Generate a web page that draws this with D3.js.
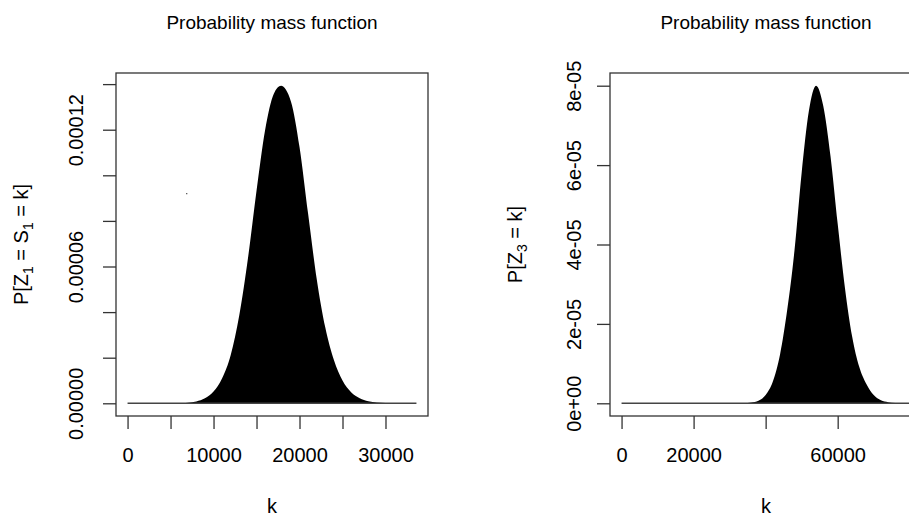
<!DOCTYPE html>
<html>
<head>
<meta charset="utf-8">
<script src="https://cdn.jsdelivr.net/npm/d3@7"></script>
<style>
  body { margin: 0; background: #fff; }
  svg { display: block; font-family: "Liberation Sans", Arial, sans-serif; }
</style>
</head>
<body>
<svg id="chart" width="909" height="517"></svg>
<script>
// pmf values, one array per series
const leftK = [0, 6000, 7000, 8000, 9000, 10000, 11000, 12000, 13000, 14000, 15000, 16000, 17000, 17850,
  19000, 20000, 21000, 22000, 23000, 24000, 25000, 26000, 27000, 28000, 29000, 30000, 31000, 33600];
const leftP = [0, 0, 0.0027e-4, 0.0081e-4, 0.0218e-4, 0.0518e-4, 0.110e-4, 0.212e-4, 0.387e-4, 0.635e-4,
  0.932e-4, 1.199e-4, 1.357e-4, 1.393e-4, 1.324e-4, 1.124e-4, 0.831e-4, 0.545e-4, 0.332e-4,
  0.190e-4, 0.100e-4, 0.049e-4, 0.0225e-4, 0.0094e-4, 0.0036e-4, 0.001e-4, 0, 0];

// the lone speck inside the first panel
const leftStrayK = [6870];
const leftStrayP = [9.2e-5];

const rightK = [0, 32000, 34000, 36000, 38000, 40000, 42000, 44000, 46000, 48000, 50000, 52000, 54000,
  56000, 58000, 60000, 62000, 64000, 66000, 68000, 70000, 72000, 74000, 76000, 78000, 80000, 80200];
const rightP = [0, 0, 0.004e-5, 0.018e-5, 0.065e-5, 0.207e-5, 0.547e-5, 1.232e-5, 2.36e-5, 3.84e-5,
  5.81e-5, 7.36e-5, 8.0e-5, 7.49e-5, 6.23e-5, 4.52e-5, 2.92e-5, 1.689e-5, 0.913e-5, 0.479e-5,
  0.207e-5, 0.074e-5, 0.025e-5, 0.007e-5, 0.002e-5, 0, 0];

const leftXTicks = [0, 5000, 10000, 15000, 20000, 25000, 30000];
const leftXLabels = [0, 10000, 20000, 30000];
const leftYTicks = [0, 2e-5, 4e-5, 6e-5, 8e-5, 1e-4, 1.2e-4, 1.4e-4];
const leftYLabels = [0, 6e-5, 1.2e-4];

const rightXTicks = [0, 20000, 40000, 60000, 80000];
const rightXLabels = [0, 20000, 60000];
const rightYTicks = [0, 2e-5, 4e-5, 6e-5, 8e-5];
const rightYLabels = [0, 2e-5, 4e-5, 6e-5, 8e-5];

const BOX_TOP_PX = 73;
const BOX_BOTTOM_PX = 416;
const BOX_WIDTH_PX = 312;
const TICK_LENGTH_PX = 13;
const X_LABEL_PAD_PX = 19;
const TITLE_BASELINE_PX = 29;
const X_TITLE_BASELINE_PX = 513;
const FONT_PX = 20;
const TITLE_FONT_PX = 19;
const SUB_FONT_PX = 14;
const AXIS_COLOR = '#333';

const svg = d3.select('#chart');

function hasLabel(labels, v) {
  return labels.some(l => Math.abs(l - v) < 1e-12);
}

// R style exponent labels: 2e-05, 0e+00
function rExp(v) {
  const [m, e] = v.toExponential(0).split('e');
  return m + 'e' + e[0] + e.slice(1).padStart(2, '0');
}

function drawPanel(p) {
  const g = svg.append('g');
  const boxRight = p.boxLeft + BOX_WIDTH_PX;
  const kMax = d3.max(p.k);
  const pMax = d3.max(p.p);

  // R's default 4% padding around the data range
  const x = d3.scaleLinear()
    .domain([-0.04 * kMax, 1.04 * kMax])
    .range([p.boxLeft, boxRight]);
  const y = d3.scaleLinear()
    .domain([-0.04 * pMax, 1.04 * pMax])
    .range([BOX_BOTTOM_PX, BOX_TOP_PX]);

  const rows = p.k.map((k, i) => ({ k, p: p.p[i] }));

  g.append('path')
    .datum(rows)
    .attr('fill', '#000')
    .attr('d', d3.area()
      .x(d => x(d.k))
      .y0(y(0))
      .y1(d => y(d.p))
      .curve(d3.curveMonotoneX));

  // zero-height spikes make a thin line along the whole support
  g.append('line')
    .attr('x1', x(0))
    .attr('x2', x(kMax))
    .attr('y1', y(0))
    .attr('y2', y(0))
    .attr('stroke', '#444')
    .attr('stroke-width', 1.5);

  if (p.strayK) {
    g.selectAll('rect.stray')
      .data(p.strayK.map((k, i) => ({ k, p: p.strayP[i] })))
      .join('rect')
      .attr('class', 'stray')
      .attr('x', d => x(d.k) - 0.5)
      .attr('y', d => y(d.p) - 0.5)
      .attr('width', 1.2)
      .attr('height', 1.2)
      .attr('fill', '#444');
  }

  g.append('rect')
    .attr('x', p.boxLeft)
    .attr('y', BOX_TOP_PX)
    .attr('width', BOX_WIDTH_PX)
    .attr('height', BOX_BOTTOM_PX - BOX_TOP_PX)
    .attr('fill', 'none')
    .attr('stroke', AXIS_COLOR)
    .attr('stroke-width', 1.3);

  const xAxis = g.append('g')
    .attr('transform', `translate(0,${BOX_BOTTOM_PX})`)
    .call(d3.axisBottom(x)
      .tickValues(p.xTicks)
      .tickSize(TICK_LENGTH_PX)
      .tickPadding(X_LABEL_PAD_PX)
      .tickFormat(d => hasLabel(p.xLabels, d) ? String(d) : ''));
  xAxis.select('.domain').remove();
  xAxis.selectAll('line').attr('stroke', AXIS_COLOR).attr('stroke-width', 1.3);
  xAxis.selectAll('text')
    .attr('fill', '#000')
    .attr('font-size', FONT_PX);
  xAxis.attr('font-family', null);

  const yAxis = g.append('g')
    .attr('transform', `translate(${p.boxLeft},0)`)
    .call(d3.axisLeft(y)
      .tickValues(p.yTicks)
      .tickSize(TICK_LENGTH_PX)
      .tickFormat(d => hasLabel(p.yLabels, d) ? p.yFormat(d) : ''));
  yAxis.select('.domain').remove();
  yAxis.selectAll('line').attr('stroke', AXIS_COLOR).attr('stroke-width', 1.3);
  yAxis.selectAll('text')
    .attr('fill', '#000')
    .attr('font-size', FONT_PX)
    .attr('x', 0)
    .attr('y', -(p.boxLeft - p.yTickBaseline))
    .attr('dy', null)
    .attr('text-anchor', 'middle')
    .attr('transform', 'rotate(-90)');
  yAxis.attr('font-family', null);

  const midX = p.boxLeft + BOX_WIDTH_PX / 2;

  g.append('text')
    .attr('x', midX)
    .attr('y', TITLE_BASELINE_PX)
    .attr('text-anchor', 'middle')
    .attr('font-size', TITLE_FONT_PX)
    .text('Probability mass function');

  g.append('text')
    .attr('x', midX)
    .attr('y', X_TITLE_BASELINE_PX)
    .attr('text-anchor', 'middle')
    .attr('font-size', FONT_PX)
    .text('k');

  const yTitle = g.append('text')
    .attr('transform', `translate(${p.yTitleBaseline},${(BOX_TOP_PX + BOX_BOTTOM_PX) / 2}) rotate(-90)`)
    .attr('text-anchor', 'middle')
    .attr('font-size', FONT_PX);
  // pieces: [text, isSubscript]
  p.yTitle.forEach(([t, sub], i) => {
    const prevSub = i > 0 && p.yTitle[i - 1][1];
    yTitle.append('tspan')
      .attr('font-size', sub ? SUB_FONT_PX : FONT_PX)
      .attr('dy', sub ? 5 : (prevSub ? -5 : 0))
      .text(t);
  });
}

drawPanel({
  boxLeft: 116,
  k: leftK,
  p: leftP,
  strayK: leftStrayK,
  strayP: leftStrayP,
  xTicks: leftXTicks,
  xLabels: leftXLabels,
  yTicks: leftYTicks,
  yLabels: leftYLabels,
  yFormat: d3.format('.5f'),
  yTickBaseline: 83,
  yTitleBaseline: 28,
  yTitle: [['P[Z', false], ['1', true], [' = S', false], ['1', true], [' = k]', false]]
});

drawPanel({
  boxLeft: 610,
  k: rightK,
  p: rightP,
  xTicks: rightXTicks,
  xLabels: rightXLabels,
  yTicks: rightYTicks,
  yLabels: rightYLabels,
  yFormat: rExp,
  yTickBaseline: 581,
  yTitleBaseline: 522,
  yTitle: [['P[Z', false], ['3', true], [' = k]', false]]
});
</script>
</body>
</html>
